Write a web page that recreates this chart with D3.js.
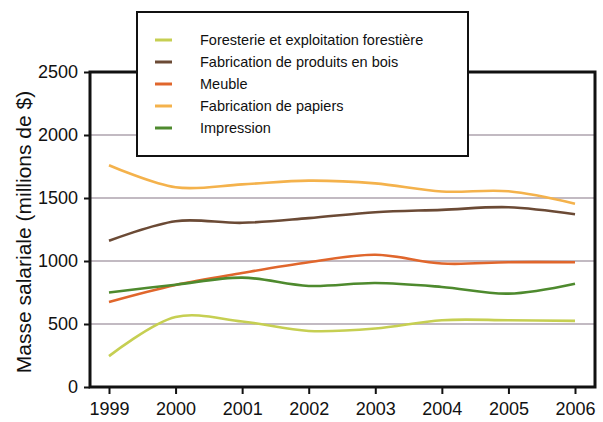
<!DOCTYPE html>
<html><head><meta charset="utf-8">
<script src="https://cdn.jsdelivr.net/npm/d3@7"></script>
<style>body{margin:0;background:#fff}svg{display:block}</style>
</head><body>
<script>
const years = [1999, 2000, 2001, 2002, 2003, 2004, 2005, 2006];
const seriesNames = ["Foresterie et exploitation forestière", "Fabrication de produits en bois", "Meuble", "Fabrication de papiers", "Impression"];
const foresterie = [245, 556, 520, 445, 464, 530, 530, 525];
const bois = [1160, 1316, 1303, 1340, 1387, 1406, 1427, 1371];
const meuble = [675, 810, 905, 990, 1050, 980, 990, 990];
const papiers = [1760, 1585, 1608, 1638, 1616, 1551, 1553, 1455];
const impression = [750, 812, 868, 802, 825, 794, 741, 820];
const yTicks = [0, 500, 1000, 1500, 2000, 2500];
const colors = ["#c6cf52", "#6b4a35", "#e0662c", "#f4b24c", "#4e8a2e"];
const allSeries = [foresterie, bois, meuble, papiers, impression];

const W = 603, H = 422;
const svg = d3.select("body").append("svg").attr("width", W).attr("height", H);
const pL = 90, pR = 595, pT = 72, pB = 387;
const x = d3.scalePoint().domain(years).range([109, 575]);
const y = d3.scaleLinear().domain([0, 2500]).range([pB, pT]);

// gridlines
svg.append("g").selectAll("line").data(yTicks.filter(d => d > 0 && d < 2500)).join("line")
  .attr("x1", pL).attr("x2", pR).attr("y1", d => y(d)).attr("y2", d => y(d))
  .attr("stroke", "#c2bac2").attr("stroke-width", 2);

// lines
const line = d3.line().x((d, i) => x(years[i])).y(d => y(d)).curve(d3.curveCatmullRom.alpha(0.5));
svg.append("g").selectAll("path").data(allSeries).join("path")
  .attr("d", d => line(d)).attr("fill", "none")
  .attr("stroke", (d, i) => colors[i]).attr("stroke-width", 2.6);

// frame
svg.append("rect").attr("x", pL).attr("y", pT).attr("width", pR - pL).attr("height", pB - pT)
  .attr("fill", "none").attr("stroke", "#111").attr("stroke-width", 3);

// axes
const yAxis = d3.axisLeft(y).tickValues(yTicks).tickSize(6).tickPadding(6).tickFormat(d3.format("d"));
const gy = svg.append("g").attr("transform", `translate(${pL},0)`).call(yAxis);
const xAxis = d3.axisBottom(x).tickSize(7).tickPadding(8).tickFormat(d3.format("d"));
const gx = svg.append("g").attr("transform", `translate(0,${pB})`).call(xAxis);
[gy, gx].forEach(g => {
  g.select(".domain").remove();
  g.selectAll(".tick line").attr("stroke", "#111").attr("stroke-width", 2);
  g.selectAll("text").attr("font-family", "Liberation Sans, Arial, sans-serif")
    .attr("font-size", 18).attr("fill", "#111");
});

// y label
svg.append("text").attr("transform", "translate(31,232) rotate(-90)")
  .attr("text-anchor", "middle").attr("font-family", "Liberation Sans, Arial, sans-serif")
  .attr("font-size", 21).attr("fill", "#111").text("Masse salariale (millions de $)");

// legend
const lg = svg.append("g");
lg.append("rect").attr("x", 137).attr("y", 12).attr("width", 331).attr("height", 144)
  .attr("fill", "#fff").attr("stroke", "#111").attr("stroke-width", 2);
const rows = lg.selectAll("g.item").data(seriesNames).join("g").attr("class", "item")
  .attr("transform", (d, i) => `translate(0,${40 + i * 22})`);
rows.append("line").attr("x1", 155).attr("x2", 172).attr("y1", 0).attr("y2", 0)
  .attr("stroke", (d, i) => colors[i]).attr("stroke-width", 3);
rows.append("text").attr("x", 200).attr("y", 0).attr("dy", "0.35em")
  .attr("font-family", "Liberation Sans, Arial, sans-serif").attr("font-size", 14.5)
  .attr("fill", "#111").text(d => d);
</script>
</body></html>
